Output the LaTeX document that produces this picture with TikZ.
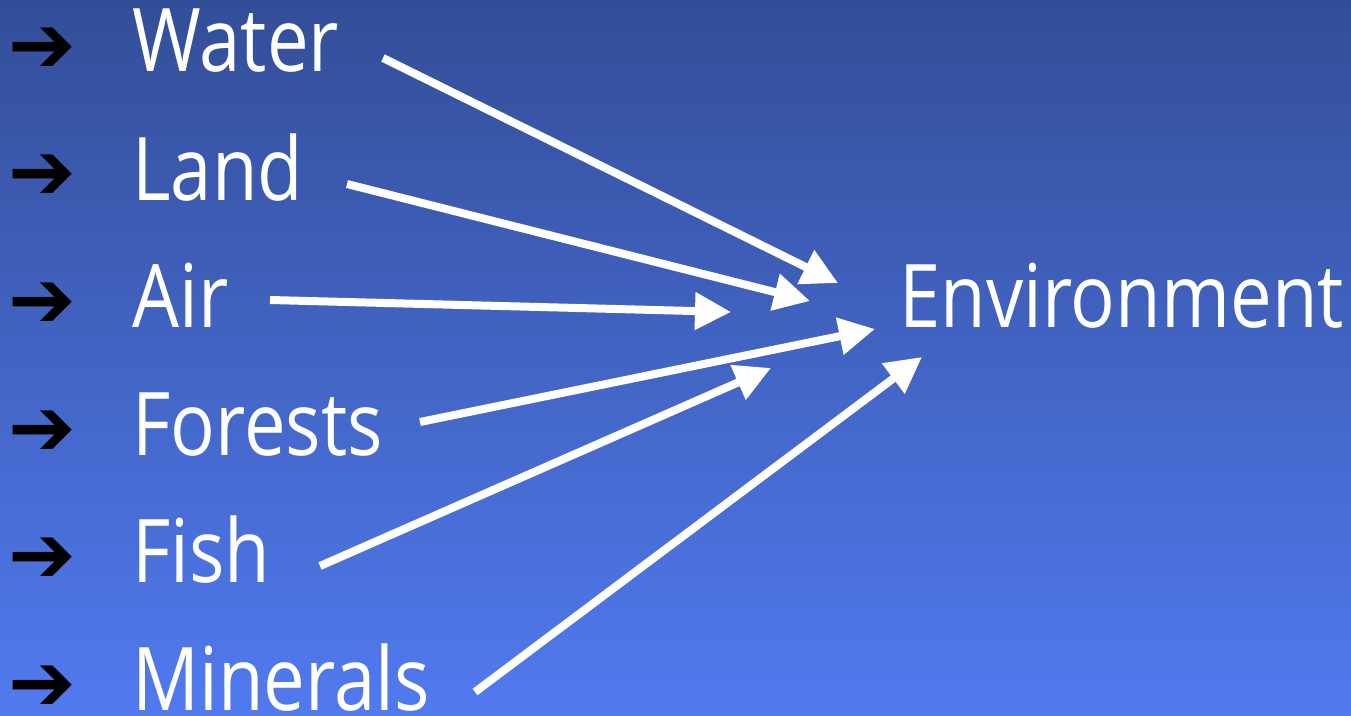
\documentclass[tikz,border=0pt]{standalone}
\usepackage{fontspec}
\setmainfont[FakeStretch=0.845]{Open Sans}
\newfontfamily\bulletfont{DejaVu Sans}
\usetikzlibrary{arrows.meta}

\begin{document}
\begin{tikzpicture}[x=0.02cm,y=-0.02cm,
    item/.style={anchor=base west,inner sep=0pt,text=white,font=\fontsize{50}{52}\selectfont},
    bullet/.style={anchor=center,inner sep=0pt,text=black,font=\bulletfont\fontsize{46}{48}\selectfont},
    link/.style={white,line width=0.16cm,-{Triangle[length=0.72cm,width=0.72cm]}}]

% background
\shade[top color={rgb,255:red,51;green,78;blue,152},bottom color={rgb,255:red,81;green,122;blue,239}]
    (0,0) rectangle (1351,716);
\useasboundingbox (0,0) rectangle (1351,716);

% bullets and items
\node[bullet] (b1) at (42,50) {➔};
\node[bullet] (b2) at (42,177) {➔};
\node[bullet] (b3) at (42,305) {➔};
\node[bullet] (b4) at (42,433) {➔};
\node[bullet] (b5) at (42,560) {➔};
\node[bullet] (b6) at (42,688) {➔};

\node[item] (water) at (132,72) {Water};
\node[item] (land) at (132,200) {Land};
\node[item] (air) at (132,327) {Air};
\node[item] (forests) at (132,455) {Forests};
\node[item] (fish) at (132,582) {Fish};
\node[item] (minerals) at (132,710) {Minerals};

\node[item] (env) at (899,327) {Environment};

% arrow ends
\coordinate (waterS) at (383,58);
\coordinate (landS) at (347,184);
\coordinate (airS) at (270,300);
\coordinate (forestsS) at (420,422);
\coordinate (fishS) at (320,566);
\coordinate (mineralsS) at (475,692);

\coordinate (waterE) at (838,283);
\coordinate (landE) at (810,301);
\coordinate (airE) at (731,312);
\coordinate (forestsE) at (875,329);
\coordinate (fishE) at (771,368);
\coordinate (mineralsE) at (922,357);

% draw arrows
\draw[link] (waterS) -- (waterE);
\draw[link] (landS) -- (landE);
\draw[link] (airS) -- (airE);
\draw[link] (forestsS) -- (forestsE);
\draw[link] (fishS) -- (fishE);
\draw[link] (mineralsS) -- (mineralsE);

\end{tikzpicture}
\end{document}
